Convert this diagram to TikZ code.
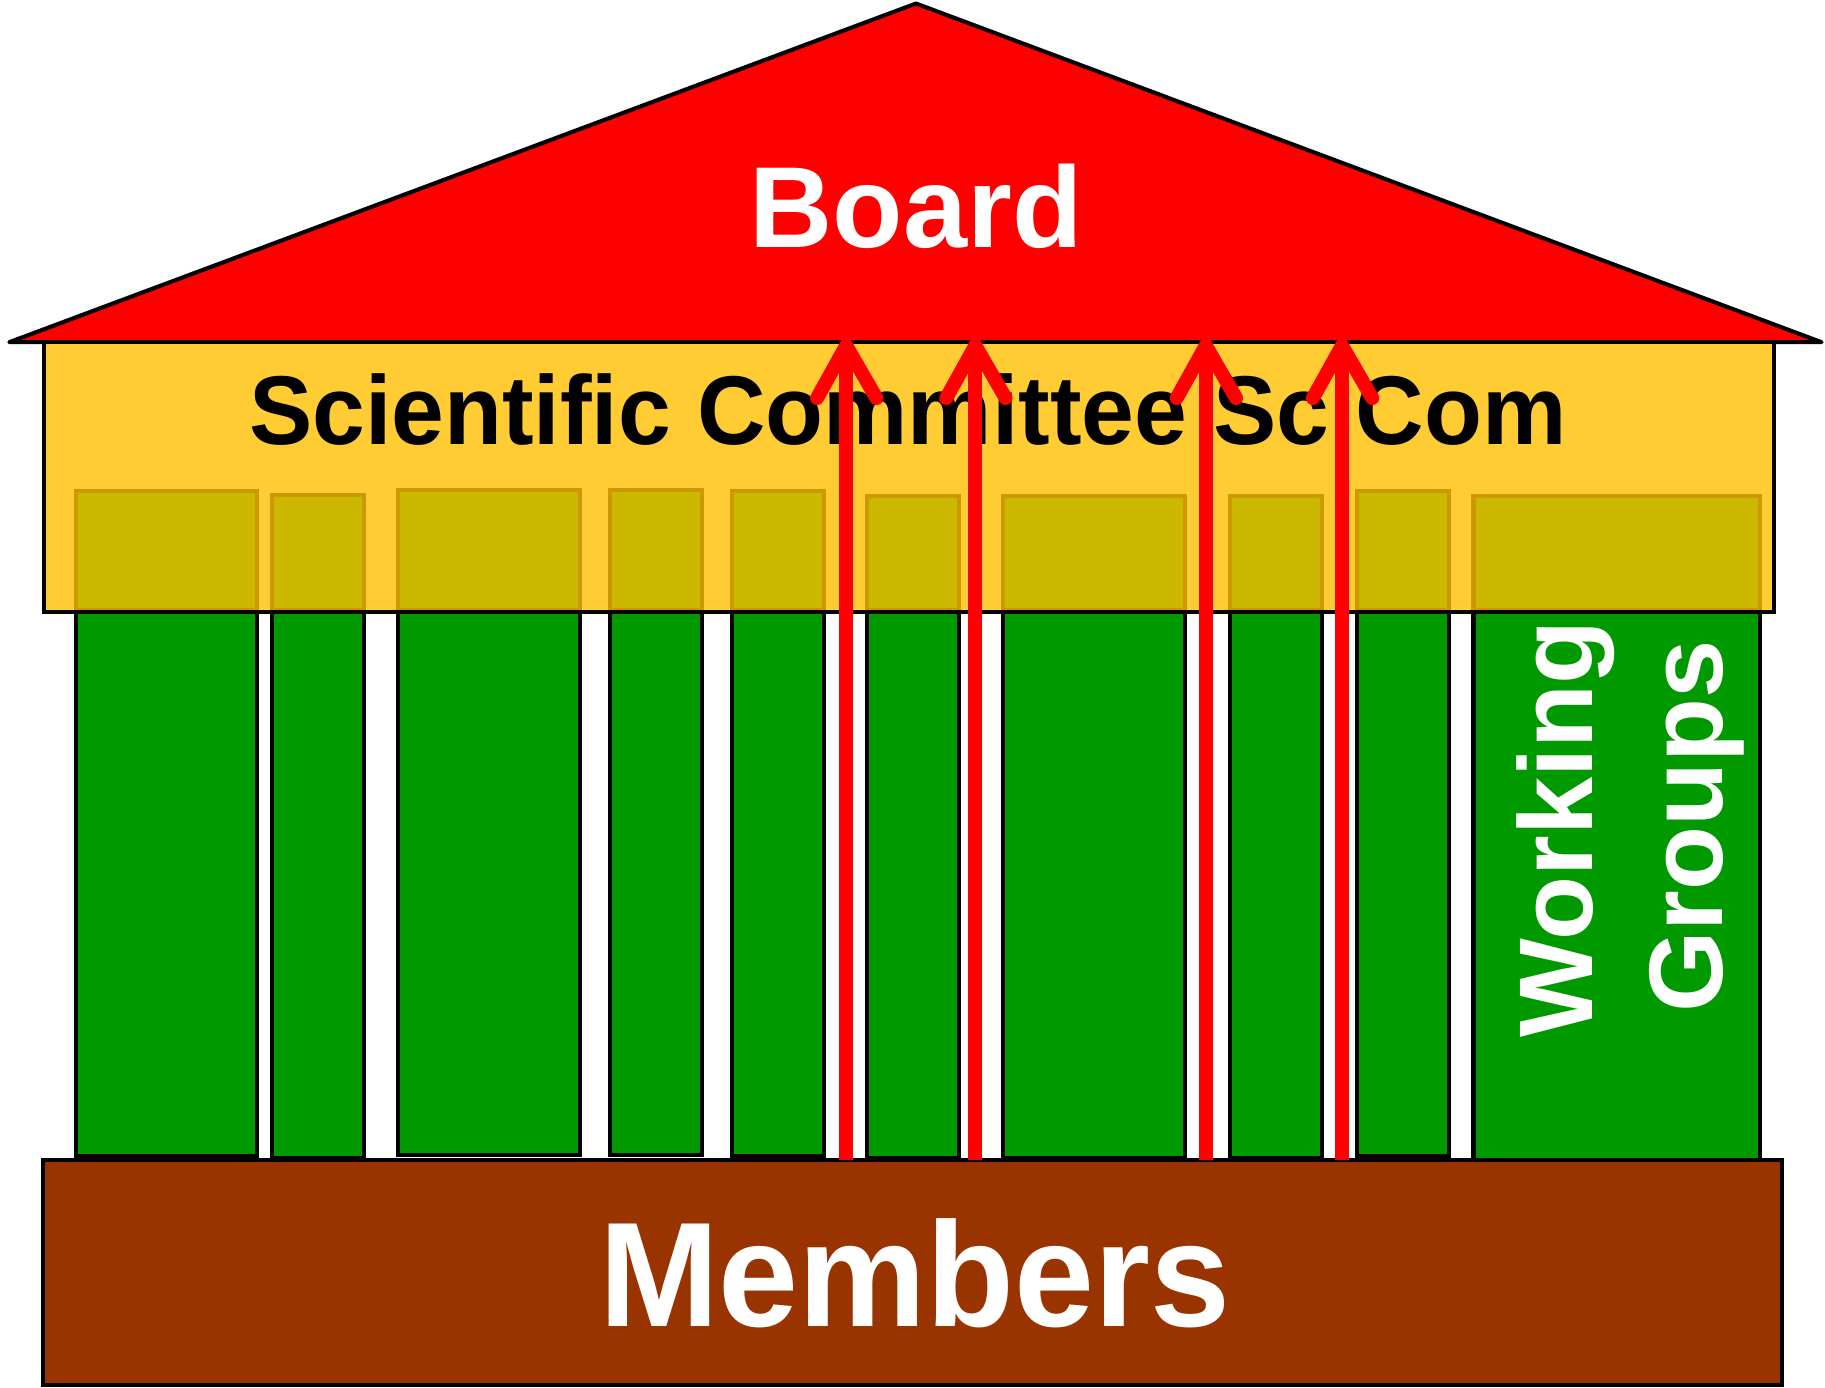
\documentclass[tikz,border=0pt]{standalone}
\usepackage{fontspec}
\setmainfont{Liberation Sans}
\definecolor{roofred}{HTML}{FF0000}
\definecolor{bandyellow}{HTML}{FFCC33}
\definecolor{colgreen}{HTML}{009900}
\definecolor{olive}{HTML}{CCB800}
\definecolor{oliveedge}{HTML}{CC9900}
\definecolor{basebrown}{HTML}{993300}
\tikzset{
  outline/.style={draw=black, line width=3.5pt, line join=miter},
  column/.style={outline, fill=colgreen},
  capital/.style={draw=oliveedge, line width=3.5pt, fill=olive},
  shaft/.style={draw=roofred, line width=12pt},
  chevron/.style={draw=roofred, line width=12pt, line cap=round, line join=miter},
  bigtext/.style={inner sep=0pt, anchor=base, font=\bfseries}
}
\begin{document}
\begin{tikzpicture}[x=1pt,y=-1pt]
\useasboundingbox (0,0) rectangle (1568,1192);
% columns (green part)
\foreach \l/\r/\b in {65/221/993, 234/313/995, 342/498/992, 524/603/992, 629/708/993, 745/824/995, 862/1018/995, 1057/1136/995, 1166/1245/993, 1266/1512/997}{
  \draw[column] (\l,526) rectangle (\r,\b);
}
% members base
\draw[outline, fill=basebrown] (37,997) rectangle (1531,1190);
\node[bigtext, text=white, xscale=0.965, font=\bfseries\fontsize{128}{136}\selectfont] (members) at (786,1140) {Members};
% roof
\draw[outline, line join=round, fill=roofred] (8,294) -- (787,3) -- (1565,294) -- cycle;
\node[bigtext, text=white, font=\bfseries\fontsize{99}{110}\selectfont] (board) at (787,213) {Board};
% scientific committee band
\draw[outline, fill=bandyellow] (38,294) rectangle (1524,526);
% column capitals inside band
\foreach \l/\r/\t in {65/221/422, 234/313/425, 342/498/421, 524/603/421, 629/708/422, 745/824/426, 862/1018/426, 1057/1136/426, 1166/1245/422, 1266/1512/426}{
  \draw[capital] (\l,\t) rectangle (\r,524.5);
}
\draw[black, line width=3.5pt] (38,526) -- (1524,526);
\node[bigtext, text=black, xscale=0.97, font=\bfseries\fontsize{84}{95}\selectfont] (scicom) at (780,382) {Scientific Committee SciCom};
% working groups label
\node[bigtext, rotate=90, text=white, font=\bfseries\fontsize{90}{100}\selectfont] (wg1) at (1368,712) {Working};
\node[bigtext, rotate=90, text=white, font=\bfseries\fontsize{90}{100}\selectfont] (wg2) at (1480,710) {Groups};
% arrows from members to board
\foreach \n/\x in {1/727, 2/838, 3/1036, 4/1153}{
  \coordinate (s\n) at (\x,997);
  \coordinate (t\n) at (\x,297);
  \coordinate (l\n) at (\x-25,342);
  \coordinate (r\n) at (\x+26,342);
  \draw[shaft] (s\n) -- (t\n);
  \draw[chevron] (l\n) -- (t\n) -- (r\n);
}
\end{tikzpicture}
\end{document}
